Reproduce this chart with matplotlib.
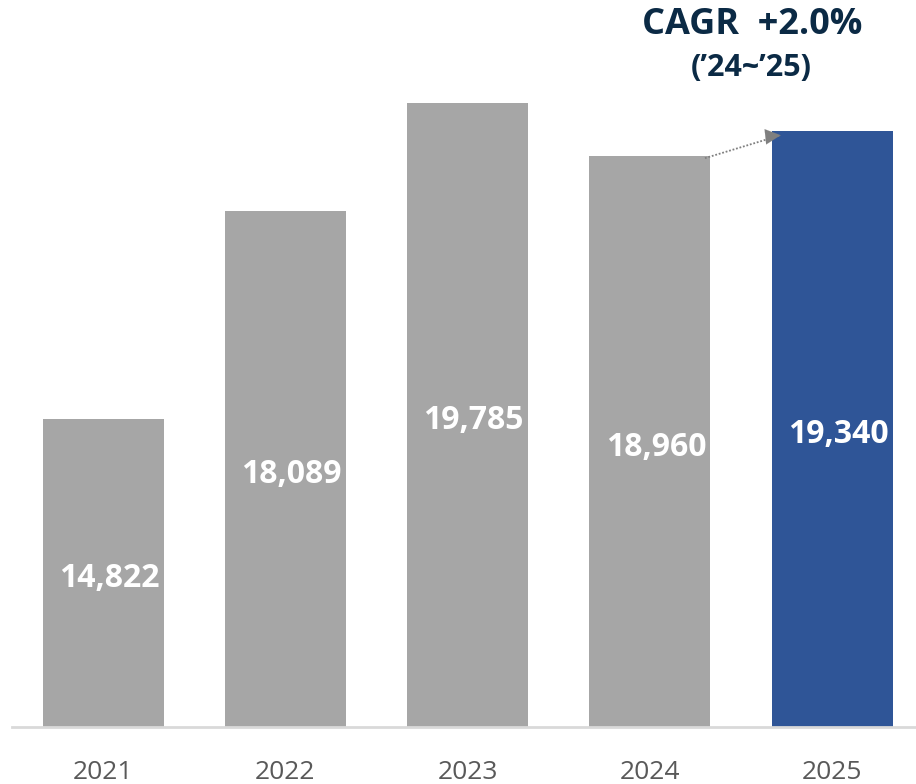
import numpy as np
import matplotlib.pyplot as plt

years = ['2021', '2022', '2023', '2024', '2025']
values = [14822, 18089, 19785, 18960, 19340]
labels = ['14,822', '18,089', '19,785', '18,960', '19,340']
colors = ['#A6A6A6', '#A6A6A6', '#A6A6A6', '#A6A6A6', '#2F5597']

plt.rcParams['font.family'] = ['Open Sans', 'DejaVu Sans']

fig = plt.figure(figsize=(9.16, 7.84), dpi=100)
ax = fig.add_axes([0.013, 0.0727, 0.987, 0.9273])

x = np.arange(len(years))
w = 0.664
ax.bar(x, values, width=w, color=colors, zorder=2)
ax.set_ylim(10000, 21400)
ax.set_xlim(-0.5, 4.46)

# value labels, roughly centred in the visible part of each bar
for xi, v, lab in zip(x, values, labels):
    ax.text(xi + 0.033, (v + 10000) / 2 - 90, lab, ha='center', va='center',
            color='white', fontsize=23, fontweight='bold', zorder=3)

for s in ['top', 'right', 'left']:
    ax.spines[s].set_visible(False)
ax.spines['bottom'].set_color('#D9D9D9')
ax.spines['bottom'].set_linewidth(2)
ax.set_yticks([])
ax.set_xticks(x)
ax.set_xticklabels(years, fontsize=19, color='#595959',
                   family=['Liberation Sans Narrow', 'Open Sans'])
ax.tick_params(axis='x', length=0, pad=24)

# CAGR arrow (dotted shaft, filled head)
p0 = (3 + w / 2 - 0.03, values[3] - 40)
p1 = (4 - w / 2 + 0.05, values[4] - 60)
ax.plot([p0[0], p1[0]], [p0[1], p1[1]], color='#7F7F7F', lw=1.3,
        linestyle=(0, (1, 1)), zorder=4)
ax.annotate('', xy=p1, xytext=(p1[0] - 0.02, p1[1] - 6),
            arrowprops=dict(arrowstyle='-|>,head_length=1.1,head_width=0.55',
                            color='#7F7F7F', lw=0.1),
            zorder=4)

fig.text(752 / 916, 1 - 25 / 784, 'CAGR  +2.0%', ha='center', va='center',
         fontsize=26, fontweight='bold', color='#0B2A45')
fig.text(751 / 916, 1 - 68 / 784, '(\u201924~\u201925)', ha='center', va='center',
         fontsize=22, fontweight='bold', color='#0B2A45')

fig.savefig('out.png', dpi=100)
